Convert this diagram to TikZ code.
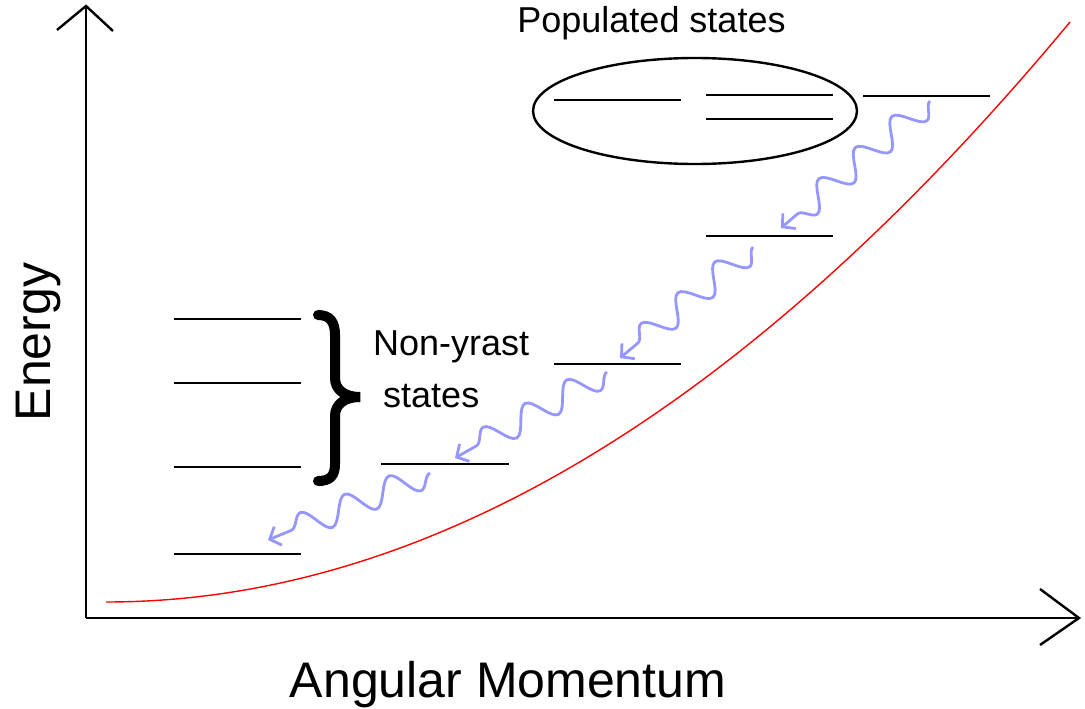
\documentclass[tikz,border=0pt]{standalone}
\usepackage{fontspec}
\setmainfont{Liberation Sans}
\usetikzlibrary{decorations.pathmorphing,arrows.meta,shapes.geometric}
\definecolor{wavecol}{RGB}{150,150,255}
\begin{document}
\begin{tikzpicture}[x=1pt,y=-1pt,
  level/.style={line width=2.8pt},
  axis/.style={line width=2.4pt},
  lbl/.style={inner sep=0pt, font=\fontsize{36}{40}\selectfont},
  axlbl/.style={inner sep=0pt, font=\fontsize{50}{56}\selectfont},
  photon/.style={draw=wavecol, line width=2.8pt, decorate,
    decoration={snake, amplitude=13pt, segment length=48pt, post length=3pt},
    -{Straight Barb[length=9pt,width=20pt]}}
]
\useasboundingbox (0,0) rectangle (1085,709);

% axes
\coordinate (O) at (86,618);
\coordinate (ytop) at (86,6);
\coordinate (xend) at (1079,618);
\draw[axis] (O) -- (ytop);
\draw[axis] (57,30) -- (ytop) -- (113,31);
\draw[axis] (O) -- (xend);
\draw[axis] (1040,589) -- (xend) -- (1040,645);

% yrast curve
\draw[red, line width=1.4pt] (106,602) .. controls (427.3,602) and (748.7,408.7) .. (1070,22);

% levels
\draw[level] (174,319) -- (301,319);
\draw[level] (174,383) -- (301,383);
\draw[level] (174,467) -- (301,467);
\draw[level] (174,554) -- (301,554);
\draw[level] (381,464) -- (509,464);
\draw[level] (554,364) -- (681,364);
\draw[level] (706,236) -- (833,236);
\draw[level] (554,100) -- (681,100);
\draw[level] (706,95) -- (833,95);
\draw[level] (706,119) -- (833,119);
\draw[level] (863,96) -- (990,96);

% populated states
\node[ellipse, draw, line width=2.4pt, minimum width=324pt, minimum height=106pt, inner sep=0pt] (popell) at (695,111) {};
\node[lbl, anchor=base] (pop) at (651.5,33) {Populated states};

% brace
\draw[line width=10pt, line cap=round] (318,315) .. controls (330,315) and (335,322) .. (335,335) -- (335,378)
  .. controls (335,390) and (345,397) .. (360,397)
  .. controls (345,397) and (335,404) .. (335,416) -- (335,464)
  .. controls (335,476) and (330,481) .. (318,481);
\node[lbl, anchor=base west] (ny1) at (373,355) {Non-yrast};
\node[lbl, anchor=base west] (ny2) at (383,407) {states};

% gamma transitions
\coordinate (w1s) at (430,473); \coordinate (w1e) at (268,540);
\coordinate (w2s) at (607,372); \coordinate (w2e) at (455,458);
\coordinate (w3s) at (753,247); \coordinate (w3e) at (620,358);
\coordinate (w4s) at (930,101); \coordinate (w4e) at (781,228);
\draw[photon] (w1s) -- (w1e);
\draw[photon] (w2s) -- (w2e);
\draw[photon] (w3s) -- (w3e);
\draw[photon] (w4s) -- (w4e);

% axis labels
\node[axlbl, rotate=90, anchor=base] (energy) at (50,342) {Energy};
\node[axlbl, anchor=base] (amom) at (508,697) {Angular Momentum};
\end{tikzpicture}
\end{document}
